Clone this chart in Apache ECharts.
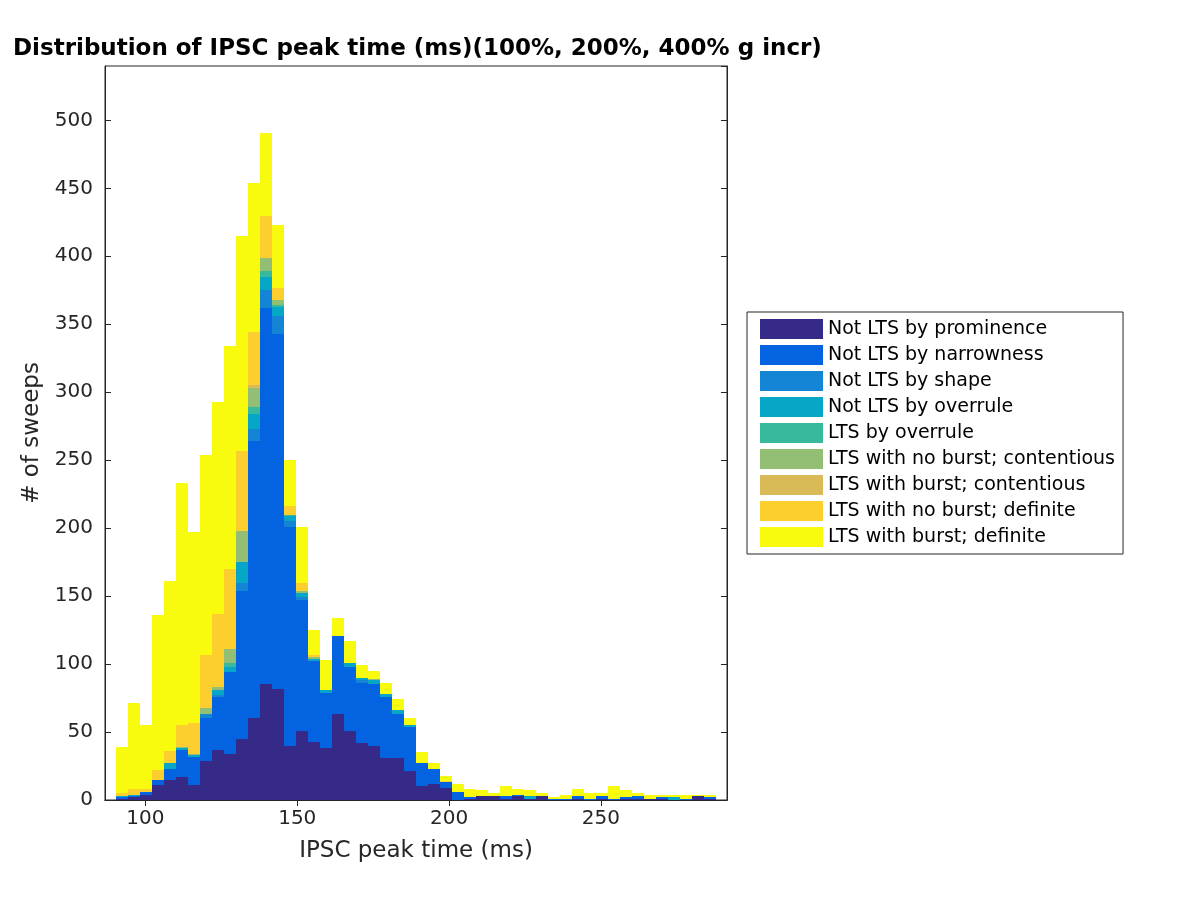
<!DOCTYPE html>
<html>
<head>
<meta charset="utf-8">
<script src="https://cdn.jsdelivr.net/npm/echarts@6/dist/echarts.min.js"></script>
<style>html,body{margin:0;padding:0;background:#fff}#c{width:1200px;height:900px}</style>
</head>
<body>
<div id="c"></div>
<script>
// Histogram bin definition (IPSC peak time, ms)
const binStart = 90.3;
const binWidth = 3.95;
const xTicks = [100, 150, 200, 250];

const seriesNames = [
  'Not LTS by prominence',
  'Not LTS by narrowness',
  'Not LTS by shape',
  'Not LTS by overrule',
  'LTS by overrule',
  'LTS with no burst; contentious',
  'LTS with burst; contentious',
  'LTS with no burst; definite',
  'LTS with burst; definite'
];
const seriesColors = ['#352A87','#0363E1','#1485D4','#06A7C6','#38B99E','#92BF73','#D9BA56','#FCCE2E','#F9FB0E'];

// counts per bin (50 bins)
const notLtsProminence = [1,2,4,11,15,17,11,29,37,34, 45,60,85,82,40,51,43,38,63,51, 42,40,31,31,21,10,12,9,0,1, 3,3,1,3,1,3,0,0,1,0, 1,0,1,1,1,1,0,0,3,1];
const notLtsNarrowness = [1,1,2,4,8,20,21,31,39,60, 109,204,277,261,161,96,59,41,58,47, 44,45,45,32,33,17,11,4,6,1, 0,0,2,1,0,0,1,1,2,1, 2,1,1,2,0,1,0,1,0,1];
const notLtsShape      = [0,0,0,0,0,0,0,3,1,0, 6,9,13,13,4,2,0,0,0,0, 2,0,0,0,0,0,0,0,0,0, 0,0,0,0,0,0,0,0,0,0, 0,0,0,0,0,0,0,0,0,0];
const notLtsOverrule   = [1,1,0,0,4,1,1,0,4,4, 15,11,10,7,4,3,2,2,0,3, 2,3,2,3,1,0,0,0,0,0, 0,0,0,0,2,0,0,0,0,0, 0,0,0,0,0,0,2,0,0,0];
const ltsOverrule      = [0,0,0,0,0,0,0,0,0,3, 0,5,4,1,1,0,0,0,0,0, 0,0,0,0,0,0,0,0,0,0, 0,0,0,0,0,0,0,0,0,0, 0,0,0,0,0,0,0,0,0,0];
const noBurstContent   = [0,0,0,0,0,1,1,5,2,10, 23,14,10,4,0,2,1,0,0,0, 0,1,0,0,0,0,0,0,0,0, 0,0,0,0,0,0,0,0,0,0, 0,0,0,0,0,0,0,0,0,0];
const burstContent     = [0,0,0,0,0,0,0,0,0,0, 0,2,0,0,0,0,0,0,0,0, 0,0,0,0,0,0,0,0,0,0, 0,0,0,0,0,0,0,0,0,0, 0,0,0,0,0,0,0,0,0,0];
const noBurstDefinite  = [2,4,2,7,9,16,23,39,54,59, 59,39,31,9,6,6,2,0,0,0, 0,0,0,0,0,0,0,1,0,0, 0,0,0,0,0,0,0,0,0,0, 0,0,0,0,0,0,0,0,0,0];
const burstDefinite    = [34,63,47,114,125,178,140,147,156,164, 158,110,61,46,34,41,18,22,13,16, 9,6,8,8,5,8,4,4,6,6, 4,2,7,4,4,2,1,3,5,4, 2,9,5,2,3,2,2,3,1,2];

const allCounts = [notLtsProminence, notLtsNarrowness, notLtsShape, notLtsOverrule, ltsOverrule,
  noBurstContent, burstContent, noBurstDefinite, burstDefinite];

const nBins = burstDefinite.length;
const cum = new Array(nBins).fill(0);
const series = allCounts.map((arr, k) => {
  const data = arr.map((v, i) => {
    const b = cum[i];
    cum[i] += v;
    const x0 = binStart + i * binWidth;
    return [x0, x0 + binWidth, b, b + v];
  });
  return {
    name: seriesNames[k],
    type: 'custom',
    xAxisIndex: 0, yAxisIndex: 0,
    itemStyle: { color: seriesColors[k] },
    encode: { x: [0, 1], y: [2, 3] },
    renderItem: function (params, api) {
      if (api.value(3) - api.value(2) <= 0) return null;
      const p0 = api.coord([api.value(0), api.value(3)]);
      const p1 = api.coord([api.value(1), api.value(2)]);
      const x0 = Math.round(p0[0]), x1 = Math.round(p1[0]);
      const y0 = Math.round(p0[1]), y1 = Math.round(p1[1]);
      return {
        type: 'rect',
        shape: { x: x0, y: y0, width: x1 - x0, height: y1 - y0 },
        style: { fill: seriesColors[k], stroke: null, lineWidth: 0 }
      };
    },
    data: data
  };
});

const chart = echarts.init(document.getElementById('c'), null, { renderer: 'canvas' });
const axisColor = '#262626';
const font = 'DejaVu Sans';
chart.setOption({
  animation: false,
  title: {
    text: 'Distribution of IPSC peak time (ms)(100%, 200%, 400% g incr)',
    left: 8, top: 33,
    textStyle: { fontFamily: font, fontWeight: 'bold', fontSize: 23, color: '#000' }
  },
  grid: { left: 105, right: 473, top: 66, bottom: 100, show: true, borderColor: axisColor, borderWidth: 1, backgroundColor: 'transparent' },
  legend: {
    orient: 'vertical', left: 747, top: 312,
    data: seriesNames,
    icon: 'rect', itemWidth: 63, itemHeight: 20, itemGap: 6,
    padding: [7, 8, 7, 13],
    borderColor: axisColor, borderWidth: 1,
    textStyle: { fontFamily: font, fontSize: 19, lineHeight: 20, color: '#000' },
    selectedMode: false
  },
  xAxis: [{
    type: 'value', min: 86.7, max: 291.5,
    name: 'IPSC peak time (ms)', nameLocation: 'middle', nameGap: 40,
    nameTextStyle: { fontFamily: font, fontSize: 23, color: axisColor },
    axisLine: { show: true, lineStyle: { color: axisColor } },
    axisTick: { show: true, inside: true, length: 6, customValues: xTicks, lineStyle: { color: axisColor } },
    axisLabel: { customValues: xTicks, margin: 9, fontFamily: font, fontSize: 20, color: axisColor },
    splitLine: { show: false }
  }, {
    type: 'value', min: 86.7, max: 291.5, position: 'top',
    axisLine: { show: true, lineStyle: { color: axisColor } },
    axisTick: { show: true, inside: true, length: 6, customValues: xTicks, lineStyle: { color: axisColor } },
    axisLabel: { show: false }, splitLine: { show: false }
  }],
  yAxis: [{
    type: 'value', min: 0, max: 540, interval: 50,
    name: '# of sweeps', nameLocation: 'middle', nameGap: 57,
    nameTextStyle: { fontFamily: font, fontSize: 23, color: axisColor },
    axisLine: { show: true, lineStyle: { color: axisColor } },
    axisTick: { show: true, inside: true, length: 6, lineStyle: { color: axisColor } },
    axisLabel: { margin: 12, fontFamily: font, fontSize: 20, color: axisColor, showMaxLabel: false },
    splitLine: { show: false }
  }, {
    type: 'value', min: 0, max: 540, interval: 50, position: 'right',
    axisLine: { show: true, lineStyle: { color: axisColor } },
    axisTick: { show: true, inside: true, length: 6, lineStyle: { color: axisColor } },
    axisLabel: { show: false }, splitLine: { show: false }
  }],
  series: series
});
</script>
</body>
</html>
